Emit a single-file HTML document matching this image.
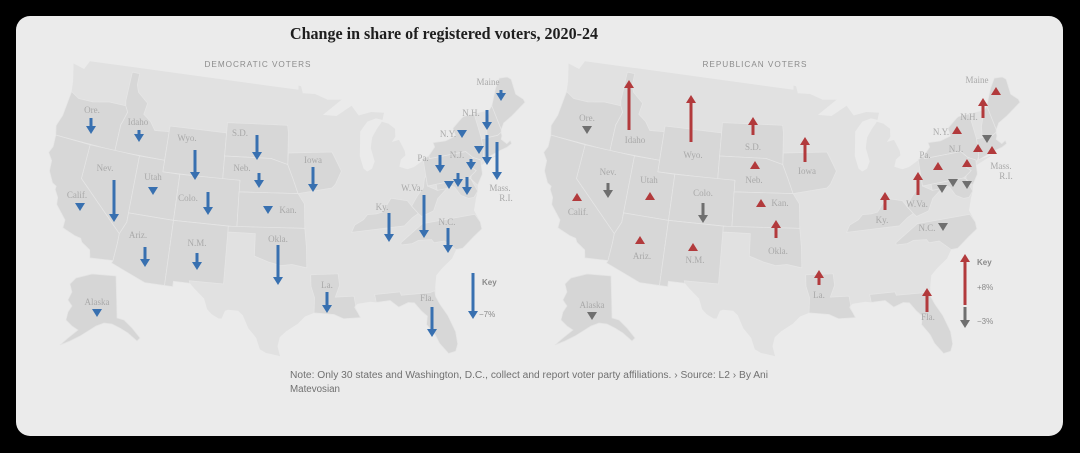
<!DOCTYPE html>
<html><head><meta charset="utf-8"><style>
html,body{margin:0;padding:0;background:#000;}
svg{display:block;}
.lb{font-family:"Liberation Serif",serif;font-size:9px;fill:#a9a9a9;text-anchor:middle;}
.hd{font-family:"Liberation Sans",sans-serif;font-size:8.5px;fill:#8c8c8c;text-anchor:middle;letter-spacing:1px;}
.ky{font-family:"Liberation Sans",sans-serif;font-size:8px;fill:#8a8a8a;}
.bl line{stroke:#3870b0;stroke-width:3;}
.bl polygon{fill:#3870b0;}
.rd line{stroke:#b23a3c;stroke-width:3;}
.rd polygon{fill:#b23a3c;}
.gy line{stroke:#6f6f6f;stroke-width:3;}
.gy polygon{fill:#6f6f6f;}
</style></head><body>
<svg width="1080" height="453" viewBox="0 0 1080 453" xmlns="http://www.w3.org/2000/svg">
<rect x="0" y="0" width="1080" height="453" fill="#000"/>
<rect x="16" y="16" width="1047" height="420" rx="14" fill="#ebebeb"/>

<g id="mapL">
  <path id="usBase" fill="#e1e1e1" d=""/>
  <path fill="#d6d6d6" stroke="#e4e4e4" stroke-width="0.7" d="M76,278L92,274L116,276L117,318L124,320L132,328L140,338L137,341L128,333L120,328L112,324L104,323L96,326L88,331L80,336L70,341L60,345L68,338L78,330L72,326L66,320L68,312L72,306L68,300L72,292L70,284Z"/>
  <g id="dataStates" fill="#d7d7d7" stroke="#e6e6e6" stroke-width="0.7"></g>
</g>
<use href="#mapL" transform="translate(495,0)"/>

<!-- Title -->
<text x="290" y="39" font-family="'Liberation Serif',serif" font-weight="bold" font-size="17" fill="#1e1e1e" textLength="308" lengthAdjust="spacingAndGlyphs">Change in share of registered voters, 2020-24</text>
<text class="hd" x="258" y="67" textLength="107" lengthAdjust="spacingAndGlyphs">DEMOCRATIC VOTERS</text>
<text class="hd" x="755" y="67" textLength="105" lengthAdjust="spacingAndGlyphs">REPUBLICAN VOTERS</text>

<!-- Left labels -->
<g class="lb">
<text x="92" y="113">Ore.</text><text x="138" y="125">Idaho</text><text x="187" y="141">Wyo.</text>
<text x="240" y="136">S.D.</text><text x="242" y="171">Neb.</text><text x="313" y="163">Iowa</text>
<text x="105" y="171">Nev.</text><text x="153" y="180">Utah</text><text x="77" y="198">Calif.</text>
<text x="188" y="201">Colo.</text><text x="288" y="213">Kan.</text><text x="278" y="242">Okla.</text>
<text x="138" y="238">Ariz.</text><text x="197" y="246">N.M.</text><text x="327" y="288">La.</text>
<text x="427" y="301">Fla.</text><text x="382" y="210">Ky.</text><text x="412" y="191">W.Va.</text>
<text x="447" y="225">N.C.</text><text x="423" y="161">Pa.</text><text x="448" y="137">N.Y.</text>
<text x="457" y="158">N.J.</text><text x="488" y="85">Maine</text><text x="471" y="116">N.H.</text>
<text x="500" y="191">Mass.</text><text x="506" y="201">R.I.</text><text x="97" y="305">Alaska</text>
</g>
<!-- Right labels -->
<g class="lb">
<text x="587" y="121">Ore.</text><text x="635" y="143">Idaho</text><text x="693" y="158">Wyo.</text>
<text x="753" y="150">S.D.</text><text x="754" y="183">Neb.</text><text x="807" y="174">Iowa</text>
<text x="608" y="175">Nev.</text><text x="649" y="183">Utah</text><text x="578" y="215">Calif.</text>
<text x="703" y="196">Colo.</text><text x="780" y="206">Kan.</text><text x="778" y="254">Okla.</text>
<text x="642" y="259">Ariz.</text><text x="695" y="263">N.M.</text><text x="819" y="298">La.</text>
<text x="928" y="320">Fla.</text><text x="882" y="223">Ky.</text><text x="917" y="207">W.Va.</text>
<text x="927" y="231">N.C.</text><text x="925" y="158">Pa.</text><text x="941" y="135">N.Y.</text>
<text x="956" y="152">N.J.</text><text x="977" y="83">Maine</text><text x="969" y="120">N.H.</text>
<text x="1001" y="169">Mass.</text><text x="1006" y="179">R.I.</text><text x="592" y="308">Alaska</text>
</g>

<!-- Blue down arrows (left) -->
<g class="bl">
<line x1="91" y1="118" x2="91" y2="128"/><polygon points="86,126 96,126 91,134"/>
<line x1="139" y1="130" x2="139" y2="136"/><polygon points="134,134 144,134 139,142"/>
<line x1="195" y1="150" x2="195" y2="174"/><polygon points="190,172 200,172 195,180"/>
<line x1="257" y1="135" x2="257" y2="154"/><polygon points="252,152 262,152 257,160"/>
<line x1="259" y1="173" x2="259" y2="182"/><polygon points="254,180 264,180 259,188"/>
<line x1="313" y1="167" x2="313" y2="186"/><polygon points="308,184 318,184 313,192"/>
<line x1="114" y1="180" x2="114" y2="216"/><polygon points="109,214 119,214 114,222"/>
<line x1="208" y1="192" x2="208" y2="209"/><polygon points="203,207 213,207 208,215"/>
<line x1="278" y1="245" x2="278" y2="279"/><polygon points="273,277 283,277 278,285"/>
<line x1="145" y1="247" x2="145" y2="261"/><polygon points="140,259 150,259 145,267"/>
<line x1="197" y1="253" x2="197" y2="264"/><polygon points="192,262 202,262 197,270"/>
<line x1="327" y1="292" x2="327" y2="307"/><polygon points="322,305 332,305 327,313"/>
<line x1="432" y1="307" x2="432" y2="331"/><polygon points="427,329 437,329 432,337"/>
<line x1="389" y1="213" x2="389" y2="236"/><polygon points="384,234 394,234 389,242"/>
<line x1="424" y1="195" x2="424" y2="232"/><polygon points="419,230 429,230 424,238"/>
<line x1="448" y1="228" x2="448" y2="247"/><polygon points="443,245 453,245 448,253"/>
<line x1="440" y1="155" x2="440" y2="167"/><polygon points="435,165 445,165 440,173"/>
<line x1="487" y1="110" x2="487" y2="124"/><polygon points="482,122 492,122 487,130"/>
<line x1="487" y1="135" x2="487" y2="159"/><polygon points="482,157 492,157 487,165"/>
<line x1="497" y1="142" x2="497" y2="174"/><polygon points="492,172 502,172 497,180"/>
<line x1="471" y1="159" x2="471" y2="164"/><polygon points="466,162 476,162 471,170"/>
<line x1="458" y1="173" x2="458" y2="181"/><polygon points="453,179 463,179 458,187"/>
<line x1="467" y1="177" x2="467" y2="189"/><polygon points="462,187 472,187 467,195"/>
<line x1="501" y1="90" x2="501" y2="95"/><polygon points="496,93 506,93 501,101"/>
<line x1="473" y1="273" x2="473" y2="313"/><polygon points="468,311 478,311 473,319"/>
<polygon points="148,187 158,187 153,195"/>
<polygon points="75,203 85,203 80,211"/>
<polygon points="263,206 273,206 268,214"/>
<polygon points="457,130 467,130 462,138"/>
<polygon points="474,146 484,146 479,154"/>
<polygon points="444,181 454,181 449,189"/>
<polygon points="92,309 102,309 97,317"/>
</g>
<text class="ky" x="482" y="285" font-weight="bold" fill="#7a7a7a">Key</text>
<text class="ky" x="479" y="317">−7%</text>

<!-- Red up arrows (right) -->
<g class="rd">
<line x1="629" y1="86" x2="629" y2="130"/><polygon points="624,88 634,88 629,80"/>
<line x1="691" y1="101" x2="691" y2="142"/><polygon points="686,103 696,103 691,95"/>
<line x1="753" y1="123" x2="753" y2="135"/><polygon points="748,125 758,125 753,117"/>
<line x1="805" y1="143" x2="805" y2="162"/><polygon points="800,145 810,145 805,137"/>
<line x1="776" y1="226" x2="776" y2="238"/><polygon points="771,228 781,228 776,220"/>
<line x1="819" y1="276" x2="819" y2="285"/><polygon points="814,278 824,278 819,270"/>
<line x1="927" y1="294" x2="927" y2="312"/><polygon points="922,296 932,296 927,288"/>
<line x1="885" y1="198" x2="885" y2="210"/><polygon points="880,200 890,200 885,192"/>
<line x1="918" y1="178" x2="918" y2="195"/><polygon points="913,180 923,180 918,172"/>
<line x1="983" y1="104" x2="983" y2="118"/><polygon points="978,106 988,106 983,98"/>
<line x1="965" y1="260" x2="965" y2="305"/><polygon points="960,262 970,262 965,254"/>
<polygon points="750,169 760,169 755,161"/>
<polygon points="645,200 655,200 650,192"/>
<polygon points="572,201 582,201 577,193"/>
<polygon points="756,207 766,207 761,199"/>
<polygon points="635,244 645,244 640,236"/>
<polygon points="688,251 698,251 693,243"/>
<polygon points="933,170 943,170 938,162"/>
<polygon points="952,134 962,134 957,126"/>
<polygon points="991,95 1001,95 996,87"/>
<polygon points="973,152 983,152 978,144"/>
<polygon points="987,154 997,154 992,146"/>
<polygon points="962,167 972,167 967,159"/>
</g>
<g class="gy">
<line x1="608" y1="183" x2="608" y2="192"/><polygon points="603,190 613,190 608,198"/>
<line x1="703" y1="203" x2="703" y2="217"/><polygon points="698,215 708,215 703,223"/>
<line x1="965" y1="307" x2="965" y2="322"/><polygon points="960,320 970,320 965,328"/>
<polygon points="582,126 592,126 587,134"/>
<polygon points="938,223 948,223 943,231"/>
<polygon points="982,135 992,135 987,143"/>
<polygon points="937,185 947,185 942,193"/>
<polygon points="948,179 958,179 953,187"/>
<polygon points="962,181 972,181 967,189"/>
<polygon points="587,312 597,312 592,320"/>
</g>
<text class="ky" x="977" y="265" font-weight="bold" fill="#7a7a7a">Key</text>
<text class="ky" x="977" y="290">+8%</text>
<text class="ky" x="977" y="324">−3%</text>

<!-- Note -->
<text x="290" y="378" font-family="'Liberation Sans Narrow','Liberation Sans',sans-serif" font-size="10" fill="#707070" textLength="478" lengthAdjust="spacingAndGlyphs">Note: Only 30 states and Washington, D.C., collect and report voter party affiliations. › Source: L2 › By Ani</text>
<text x="290" y="392" font-family="'Liberation Sans Narrow','Liberation Sans',sans-serif" font-size="10" fill="#707070" textLength="50" lengthAdjust="spacingAndGlyphs">Matevosian</text>
</svg>
<script>
(function(){
var n=0.6025,C=1.3509,R=660,cx=292,yp=-638,D=Math.PI/180;
function P(p){var t=n*(p[0]+96)*D,r=R*Math.sqrt(C-2*n*Math.sin(p[1]*D))/n;return (cx+r*Math.sin(t)).toFixed(1)+','+(yp+r*Math.cos(t)).toFixed(1);}
function path(a){return 'M'+a.map(P).join('L')+'Z';}
var US=[[-124.7,48.4],[-123.2,48.2],[-122.75,49.0],[-95.15,49.0],[-95.15,49.38],[-94.8,49.3],[-94.6,48.7],[-93.0,48.6],[-91.4,48.05],[-89.6,48.0],[-92.1,46.75],[-90.4,46.6],[-88.4,47.4],[-87.6,46.5],[-86.0,46.7],[-84.4,46.5],[-84.7,45.9],[-85.5,46.1],[-86.6,45.9],[-87.6,45.1],[-87.7,44.3],[-87.9,43.0],[-87.6,41.9],[-87.2,41.6],[-86.6,41.8],[-86.2,42.4],[-86.5,43.6],[-86.2,44.5],[-85.5,45.2],[-84.8,45.75],[-84.0,45.5],[-83.3,45.0],[-83.4,44.3],[-83.9,43.9],[-83.0,44.0],[-82.5,43.0],[-82.5,42.6],[-83.1,42.3],[-83.4,41.7],[-82.5,41.4],[-81.7,41.5],[-80.5,41.95],[-79.8,42.25],[-78.9,42.9],[-79.0,43.3],[-77.5,43.25],[-76.2,43.5],[-76.3,44.2],[-75.0,44.9],[-74.7,45.0],[-71.5,45.0],[-71.05,45.3],[-70.0,46.7],[-69.2,47.45],[-68.2,47.35],[-67.8,47.07],[-67.8,45.7],[-67.1,45.1],[-67.0,44.8],[-68.0,44.4],[-69.0,44.0],[-70.2,43.6],[-70.7,43.1],[-70.8,42.6],[-71.0,42.3],[-70.5,41.8],[-70.0,42.0],[-69.95,41.7],[-70.6,41.5],[-71.4,41.4],[-72.0,41.3],[-73.6,40.95],[-71.9,41.07],[-73.9,40.58],[-74.0,40.5],[-74.1,39.8],[-74.9,38.95],[-75.05,38.45],[-75.4,37.9],[-75.9,36.9],[-75.5,35.8],[-75.5,35.2],[-76.5,34.7],[-77.9,33.9],[-78.6,33.9],[-79.2,33.2],[-80.4,32.5],[-81.1,32.0],[-81.4,31.0],[-81.5,30.2],[-81.2,29.5],[-80.6,28.4],[-80.1,26.9],[-80.1,25.8],[-80.4,25.2],[-81.1,25.1],[-81.8,26.1],[-82.1,26.9],[-82.8,27.9],[-82.6,28.6],[-83.1,29.1],[-83.7,29.9],[-84.3,30.0],[-85.3,29.7],[-86.1,30.35],[-87.5,30.3],[-88.1,30.4],[-89.4,30.3],[-89.7,30.1],[-89.4,29.5],[-89.2,29.1],[-90.1,29.1],[-90.9,29.1],[-91.8,29.5],[-92.7,29.6],[-93.8,29.7],[-94.7,29.4],[-95.4,28.8],[-96.6,28.1],[-97.2,27.6],[-97.4,26.8],[-97.15,25.95],[-97.7,26.05],[-98.5,26.2],[-99.1,26.5],[-99.5,27.5],[-100.3,28.3],[-100.9,29.4],[-101.4,29.77],[-102.4,29.8],[-102.7,29.7],[-103.0,29.0],[-103.3,29.0],[-104.0,29.3],[-104.5,29.7],[-104.9,30.6],[-106.0,31.4],[-106.5,31.8],[-108.2,31.8],[-108.2,31.33],[-111.1,31.33],[-114.8,32.5],[-114.7,32.72],[-117.1,32.53],[-117.3,33.2],[-118.3,33.7],[-118.5,34.0],[-119.2,34.1],[-120.6,34.5],[-120.6,35.2],[-121.9,36.3],[-122.0,36.9],[-122.5,37.5],[-122.5,37.8],[-123.0,38.0],[-123.7,38.9],[-123.8,39.8],[-124.4,40.4],[-124.1,41.0],[-124.2,42.0],[-124.5,42.8],[-124.1,43.8],[-123.9,46.0],[-124.1,46.9]];
var S=[
[[-124.2,42.0],[-117.0,42.0],[-117.0,44.3],[-116.9,44.5],[-116.5,45.5],[-116.9,46.0],[-119.0,46.0],[-121,45.65],[-122.8,45.6],[-123.9,46.0],[-124.1,43.8],[-124.5,42.8]],
[[-117.0,42.0],[-111.05,42.0],[-111.05,44.5],[-112.8,44.4],[-113.5,45.1],[-114.5,45.6],[-114.3,46.6],[-115.7,47.4],[-116.05,48.0],[-116.05,49.0],[-117.03,49.0],[-117.03,46.4],[-116.9,46.0],[-116.5,45.5],[-116.9,44.5],[-117.0,44.3]],
[[-111.05,41],[-104.05,41],[-104.05,45],[-111.05,45]],
[[-104.05,43],[-98.5,43],[-96.5,42.5],[-96.45,45.3],[-96.55,45.9],[-104.05,45.9]],
[[-104.05,41],[-102.05,41],[-102.05,40],[-95.3,40],[-95.9,41.3],[-96.5,42.5],[-98.5,43],[-104.05,43]],
[[-96.5,42.5],[-95.9,41.3],[-95.3,40],[-91.4,40.4],[-91.0,40.7],[-90.2,41.8],[-90.6,42.5],[-91.2,43.5],[-96.45,43.5]],
[[-120,42],[-114.05,42],[-114.05,36.2],[-114.6,35.1],[-120,39]],
[[-124.2,42],[-120,42],[-120,39],[-114.6,35.1],[-114.6,34.3],[-114.7,32.72],[-117.1,32.53],[-117.3,33.2],[-118.3,33.7],[-118.5,34.0],[-119.2,34.1],[-120.6,34.5],[-120.6,35.2],[-121.9,36.3],[-122.0,36.9],[-122.5,37.5],[-122.5,37.8],[-123.0,38.0],[-123.7,38.9],[-123.8,39.8],[-124.4,40.4],[-124.1,41.0]],
[[-114.05,42],[-111.05,42],[-111.05,41],[-109.05,41],[-109.05,37],[-114.05,37]],
[[-109.05,41],[-102.05,41],[-102.05,37],[-109.05,37]],
[[-102.05,40],[-95.3,40],[-94.6,39.1],[-94.6,37],[-102.05,37]],
[[-103.0,37],[-94.6,37],[-94.45,35.4],[-94.45,33.6],[-96.0,33.9],[-97.2,33.8],[-98.5,34.1],[-100.0,34.56],[-100.0,36.5],[-103.0,36.5]],
[[-114.05,37],[-109.05,37],[-109.05,31.33],[-111.1,31.33],[-114.8,32.5],[-114.7,32.72],[-114.6,34.3],[-114.6,35.1],[-114.05,36.2]],
[[-109.05,37],[-103.0,37],[-103.05,32.0],[-106.6,32.0],[-106.5,31.8],[-108.2,31.8],[-108.2,31.33],[-109.05,31.33]],
[[-94.05,33.0],[-91.2,33.0],[-91.1,32.0],[-91.6,31.0],[-89.7,31.0],[-89.6,30.2],[-89.7,30.0],[-89.4,29.5],[-89.2,29.1],[-90.1,29.1],[-90.9,29.1],[-91.8,29.5],[-92.7,29.6],[-93.8,29.7],[-93.7,31.0],[-94.05,32.0]],
[[-87.6,31.0],[-85.0,31.0],[-84.9,30.7],[-82.0,30.6],[-81.5,30.7],[-81.5,30.2],[-81.2,29.5],[-80.6,28.4],[-80.1,26.9],[-80.1,25.8],[-80.4,25.2],[-81.1,25.1],[-81.8,26.1],[-82.1,26.9],[-82.8,27.9],[-82.6,28.6],[-83.1,29.1],[-83.7,29.9],[-84.3,30.0],[-85.3,29.7],[-86.1,30.35],[-87.5,30.3]],
[[-89.5,36.5],[-83.7,36.6],[-82.7,37.2],[-82.0,37.5],[-82.6,38.2],[-83.0,38.7],[-84.3,39.0],[-84.8,39.1],[-85.9,38.0],[-86.6,37.9],[-87.6,37.9],[-88.1,37.5],[-89.1,37.1]],
[[-82.6,38.2],[-82.0,37.5],[-81.7,37.2],[-80.3,37.5],[-79.6,38.5],[-78.4,39.2],[-77.8,39.3],[-77.7,39.7],[-79.5,39.7],[-79.5,39.2],[-80.5,39.7],[-80.5,40.6],[-80.7,40.4],[-81.0,39.6],[-81.8,39.0]],
[[-84.3,35.0],[-83.1,35.0],[-82.4,35.2],[-81.0,35.1],[-80.8,34.8],[-79.7,34.8],[-78.6,33.9],[-77.9,33.9],[-76.5,34.7],[-75.5,35.2],[-75.5,35.8],[-75.9,36.55],[-81.7,36.58],[-84.3,35.2]],
[[-80.5,39.7],[-75.8,39.72],[-75.4,39.85],[-74.7,40.2],[-75.2,40.6],[-75.0,41.0],[-74.7,41.35],[-75.3,41.9],[-75.4,42.0],[-79.76,42.0],[-79.76,42.27],[-80.5,42.0]],
[[-79.76,42.0],[-75.4,42.0],[-74.7,41.35],[-73.9,41.0],[-74.0,40.7],[-73.5,41.2],[-73.3,42.1],[-73.25,42.75],[-73.4,45.0],[-74.7,45.0],[-75.0,44.9],[-76.3,44.2],[-76.2,43.5],[-77.5,43.25],[-79.0,43.3],[-78.9,42.9],[-79.76,42.27]],
[[-74.7,41.35],[-75.0,41.0],[-75.2,40.6],[-74.7,40.2],[-75.4,39.85],[-75.5,39.6],[-74.9,38.95],[-74.1,39.8],[-74.0,40.5],[-73.9,41.0]],
[[-71.05,45.3],[-70.0,46.7],[-69.2,47.45],[-68.2,47.35],[-67.8,47.07],[-67.8,45.7],[-67.1,45.1],[-67.0,44.8],[-68.0,44.4],[-69.0,44.0],[-70.2,43.6],[-70.7,43.1]],
[[-70.7,43.1],[-71.05,45.3],[-71.5,45.0],[-72.3,43.7],[-72.55,42.73],[-71.3,42.7],[-70.8,42.87]],
[[-73.25,42.75],[-72.55,42.73],[-71.3,42.7],[-70.8,42.87],[-70.8,42.6],[-71.0,42.3],[-70.5,41.8],[-70.0,42.0],[-69.95,41.7],[-70.6,41.5],[-71.4,41.4],[-72.0,41.3],[-73.6,40.95],[-73.5,41.2],[-73.3,42.1]],
[[-79.5,39.72],[-75.8,39.72],[-75.5,39.6],[-75.05,38.45],[-75.6,38.0],[-76.2,38.0],[-77.0,38.4],[-77.5,39.2],[-77.8,39.3],[-78.4,39.2],[-79.5,39.2]]
];
document.getElementById('usBase').setAttribute('d',path(US));
var g=document.getElementById('dataStates'),ns='http://www.w3.org/2000/svg';
for(var i=0;i<S.length;i++){var p=document.createElementNS(ns,'path');p.setAttribute('d',path(S[i]));g.appendChild(p);}
})();
</script>
</body></html>
